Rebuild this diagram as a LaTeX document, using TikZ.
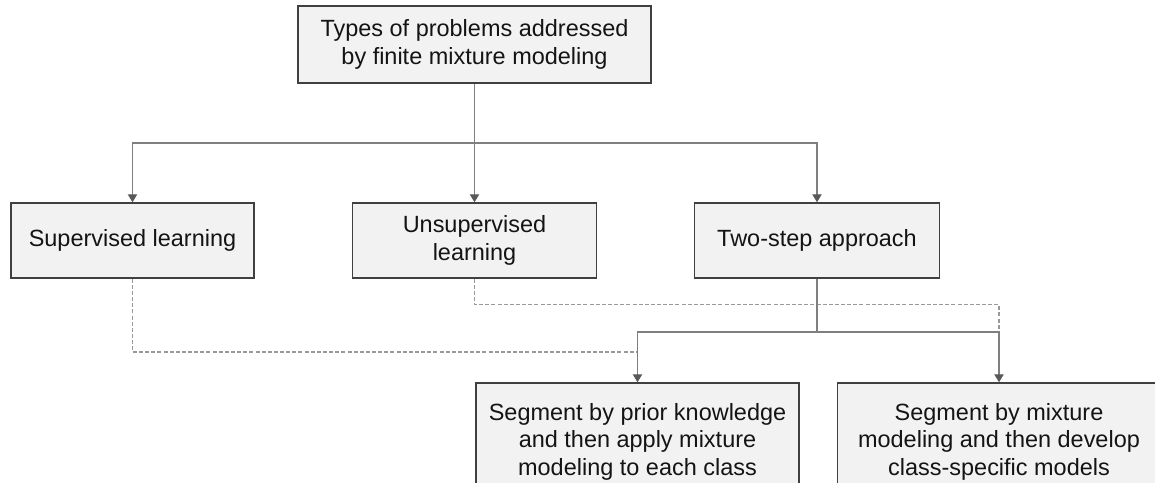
\documentclass[tikz,border=0pt]{standalone}
\usepackage{fontspec}
\setmainfont{Liberation Sans}
\usetikzlibrary{arrows.meta}

\definecolor{boxfill}{HTML}{F2F2F2}
\definecolor{boxline}{HTML}{404040}
\definecolor{linkgray}{HTML}{7F7F7F}
\definecolor{dashgray}{HTML}{999999}
\definecolor{tipgray}{HTML}{595959}
\definecolor{inkcol}{HTML}{141414}

\tikzset{
  box/.style={draw=boxline, fill=boxfill, line width=1.1pt, inner sep=0pt,
    align=center, text=inkcol,
    font=\fontsize{17.6}{20.6}\selectfont},
  link/.style={draw=linkgray, line width=0.9pt},
  linkarrow/.style={link, -{Triangle[width=7pt,length=6pt,color=tipgray]}},
  dashlink/.style={draw=dashgray, line width=0.8pt, dash pattern=on 3pt off 1.6pt},
}

\begin{document}
\begin{tikzpicture}[x=0.75pt, y=-0.75pt]
  \useasboundingbox (0,0) rectangle (1155,482);
  \clip (0,0) rectangle (1155,482);

  % boxes
  \node[box, minimum width=264.75pt, minimum height=57.75pt] (top) at (474.5,44.5)
    {Types of problems addressed\\by finite mixture modeling};
  \node[box, minimum width=182.25pt, minimum height=56.25pt] (sup) at (132.5,240.5)
    {Supervised learning};
  \node[box, minimum width=183pt, minimum height=56.25pt] (unsup) at (474.5,240.5)
    {Unsupervised\\learning};
  \node[box, minimum width=183.75pt, minimum height=56.25pt] (two) at (817,240.5)
    {Two-step approach};
  \node[box, minimum width=242.25pt, minimum height=87.75pt] (prior) at (637.5,441.5)
    {Segment by prior knowledge\\and then apply mixture\\modeling to each class};
  \node[box, minimum width=242.25pt, minimum height=87.75pt] (mix) at (999,441.5)
    {Segment by mixture\\modeling and then develop\\class-specific models};

  % junction points
  \coordinate (jtop) at (474.5,143);
  \coordinate (jtwo) at (817,332);
  \coordinate (jsup) at (637.5,352);
  \coordinate (jmix) at (999,332);

  % dashed links
  \draw[dashlink] (sup.south) |- (jsup);
  \draw[dashlink] (unsup.south) -- ++(0,26) -| (jmix);

  % solid tree links
  \draw[link] (top.south) -- (jtop);
  \draw[linkarrow] (jtop) -| (sup.north);
  \draw[linkarrow] (jtop) -- (unsup.north);
  \draw[linkarrow] (jtop) -| (two.north);
  \draw[link] (two.south) -- (jtwo);
  \draw[linkarrow] (jtwo) -| (prior.north);
  \draw[linkarrow] (jtwo) -| (mix.north);
\end{tikzpicture}
\end{document}
